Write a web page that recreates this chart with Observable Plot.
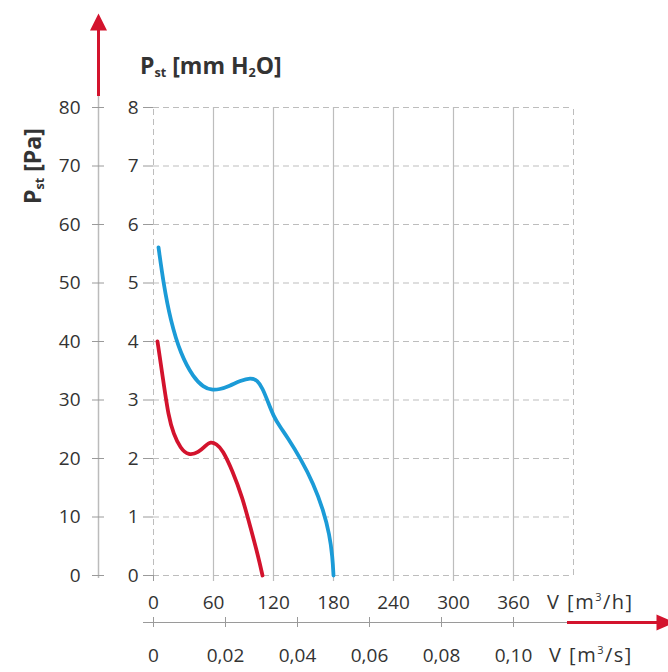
<!DOCTYPE html>
<html><head><meta charset="utf-8">
<script src="https://cdn.jsdelivr.net/npm/d3@7"></script>
<script src="https://cdn.jsdelivr.net/npm/@observablehq/plot@0.6"></script>
<style>body{margin:0;background:#fff} svg{display:block}</style>
</head><body><div id="chart"></div>
<script>
const mmTicks = [0,1,2,3,4,5,6,7,8];
const paTicks = [0,10,20,30,40,50,60,70,80];
const m3hTicks = [0,60,120,180,240,300,360];
const m3sTicks = [0,0.02,0.04,0.06,0.08,0.10];
const m3sLabels = ["0","0,02","0,04","0,06","0,08","0,10"];
const blueFlow  = [5,10,17,27,40,50,58,66,76,87,97,104,109,114,120,127,134,147,160,170,176,179,180];
const bluePress = [5.61,4.99,4.36,3.79,3.38,3.22,3.17,3.18,3.24,3.33,3.38,3.34,3.2,2.99,2.72,2.53,2.36,2.0,1.57,1.11,0.70,0.32,0];
const redFlow   = [4,10,15,20,27,35,45,52,57,63,69,79,89,97,105,109];
const redPress  = [4.0,3.3,2.72,2.42,2.17,2.05,2.10,2.22,2.29,2.25,2.15,1.79,1.33,0.82,0.31,0];

const blue = blueFlow.map((q,i)=>({q, p: bluePress[i]}));
const red  = redFlow.map((q,i)=>({q, p: redPress[i]}));

// layout helpers (pixel -> scale units)
const PY = p => (575 - p) / 58.5;
const PX = p => p - 153;
const RED = "#d3132d", BLUE = "#1b9bd7", GRID = "#bdbdbd", AX = "#9a9a9a", TXT = "#333";
const triUp = {draw(c){c.moveTo(0,-9);c.lineTo(8.5,8);c.lineTo(-8.5,8);c.closePath();}};
const triRight = {draw(c){c.moveTo(10,0);c.lineTo(-8,-8);c.lineTo(-8,8);c.closePath();}};

const chart = Plot.plot({
  width: 668, height: 672, margin: 0,
  x: {domain: [0, 420], range: [153, 573], axis: null},
  y: {domain: [0, 8], range: [575, 107], axis: null},
  style: {fontFamily: "'Open Sans', sans-serif", color: TXT, background: "#fff"},
  marks: [
    Plot.ruleY(mmTicks, {x1: 0, x2: 420, stroke: GRID, strokeDasharray: "6,4", strokeWidth: 1}),
    Plot.ruleX(m3hTicks.slice(1), {y1: PY(581), y2: 8, stroke: GRID, strokeWidth: 1.2}),
    Plot.ruleX([0, 420], {y1: 0, y2: 8, stroke: GRID, strokeDasharray: "6,4", strokeWidth: 1}),
    Plot.ruleX([0], {y1: PY(581), y2: 0, stroke: AX}),
    Plot.ruleY(mmTicks, {x1: PX(143), x2: 0, stroke: AX}),
    Plot.text(mmTicks, {x: 0, y: d => d, dx: -15, textAnchor: "end", fontSize: 19, fill: TXT}),
    Plot.ruleX([PX(98)], {y1: PY(578), y2: PY(95), stroke: "#bbb", strokeWidth: 1.5}),
    Plot.ruleY(paTicks, {y: d => d / 10, x1: PX(92), x2: PX(104), stroke: AX}),
    Plot.text(paTicks, {x: PX(80), y: d => d / 10, textAnchor: "end", fontSize: 19, fill: TXT}),
    Plot.ruleX([PX(98)], {y1: PY(96), y2: PY(28), stroke: RED, strokeWidth: 3}),
    Plot.dot([0], {x: PX(98), y: PY(22), symbol: triUp, fill: RED, stroke: "none"}),
    Plot.text(m3hTicks, {x: d => d, y: 0, dy: 27, fontSize: 19, fill: TXT}),
    Plot.ruleY([0], {x1: PX(143), x2: PX(567), dy: 47, stroke: AX, strokeWidth: 1}),
    Plot.ruleY([0], {x1: PX(567), x2: PX(657), dy: 47, stroke: RED, strokeWidth: 3}),
    Plot.dot([0], {x: PX(664), y: 0, dy: 47, symbol: triRight, fill: RED, stroke: "none"}),
    Plot.ruleX(m3sTicks, {x: d => d * 3600, y1: PY(617), y2: PY(627), stroke: AX}),
    Plot.text(m3sTicks, {x: d => d * 3600, y: 0, dy: 80, text: (d, i) => m3sLabels[i], fontSize: 19, fill: TXT}),
    Plot.line(red,  {x: "q", y: "p", stroke: RED,  strokeWidth: 3.8, curve: "basis"}),
    Plot.line(blue, {x: "q", y: "p", stroke: BLUE, strokeWidth: 3.8, curve: "basis"})
  ]
});
document.getElementById("chart").append(chart);

const svg = d3.select(chart);
function label(x, y, parts, opts = {}) {
  const t = svg.append("text").attr("x", x).attr("y", y)
    .attr("text-anchor", "start")
    .attr("font-family", "'Open Sans', sans-serif").attr("fill", TXT)
    .attr("font-size", opts.size || 19).attr("font-weight", opts.weight || "normal");
  if (opts.spacing) t.attr("letter-spacing", opts.spacing);
  if (opts.transform) t.attr("transform", opts.transform).attr("x", 0).attr("y", 0);
  for (const [s, kind] of parts) {
    const sp = t.append("tspan").text(s);
    if (kind === "sub") sp.attr("font-size", "0.55em").attr("baseline-shift", "-0.25em");
    if (kind === "sup") sp.attr("font-size", "0.55em").attr("baseline-shift", "0.75em");
  }
}
label(140, 74, [["P"],["st","sub"],[" [mm H"],["2","sub"],["O]"]], {size: 23, weight: "bold"});
label(0, 0, [["P"],["st","sub"],[" [Pa]"]], {size: 23, weight: "bold", transform: "translate(41,204) rotate(-90)"});
label(547, 609, [["V [m"],["3","sup"],["/h]"]], {size: 20, spacing: 1.5});
label(549, 662, [["V [m"],["3","sup"],["/s]"]], {size: 20, spacing: 1.5});
</script>
</body></html>
